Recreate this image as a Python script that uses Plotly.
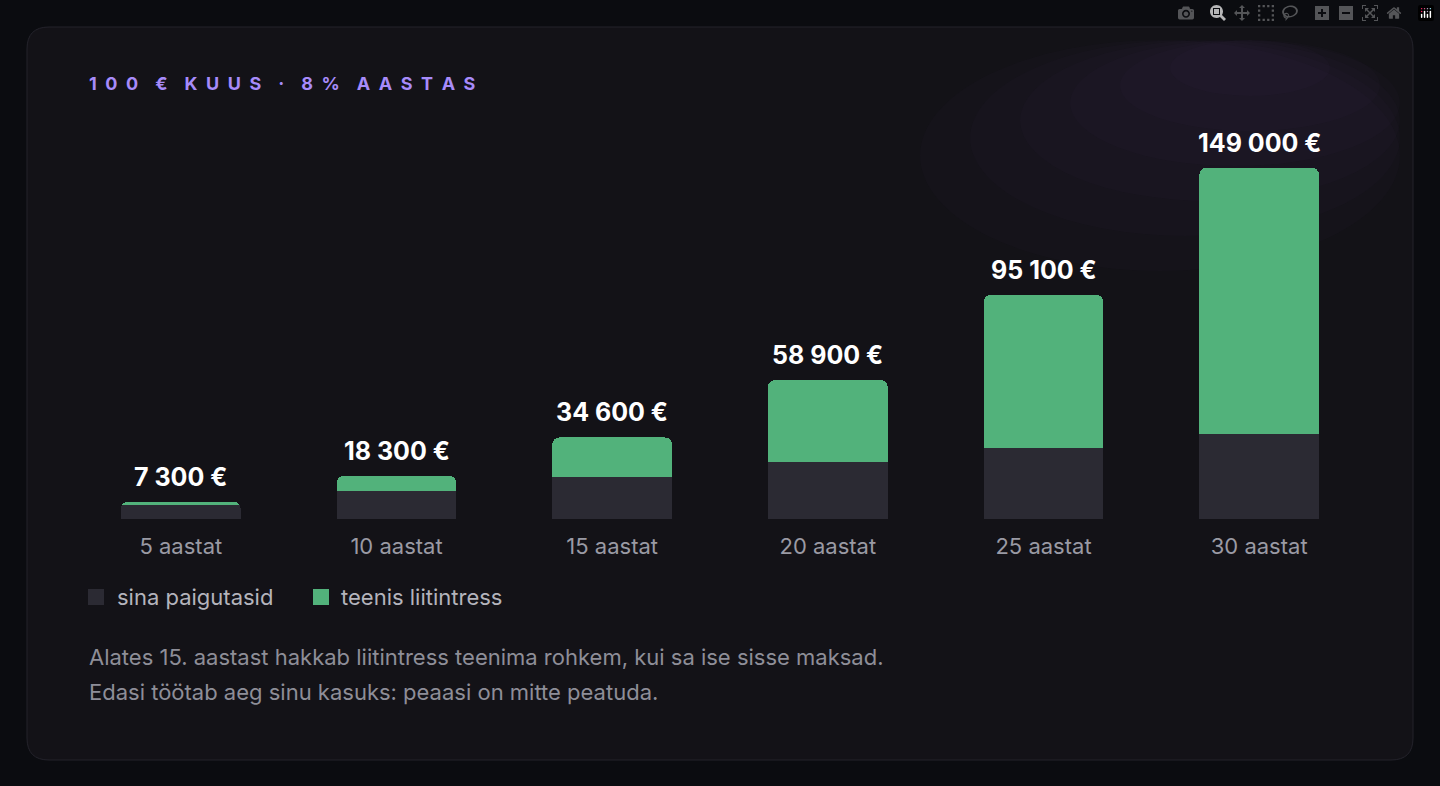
import plotly.graph_objects as go

# data
years = ["5 aastat", "10 aastat", "15 aastat", "20 aastat", "25 aastat", "30 aastat"]
paid = [6000, 12000, 18000, 24000, 30000, 36000]
totals = [7300, 18300, 34600, 58900, 95100, 149000]
total_labels = ["7 300 €", "18 300 €", "34 600 €", "58 900 €", "95 100 €", "149 000 €"]
interest = [t - p for t, p in zip(totals, paid)]

W, H = 1440, 786
L, R, T, B = 73, 73, 130, 267
PW, PH = W - L - R, H - T - B


def px(x):
    return (x - L) / PW


def py(y):
    return (H - B - y) / PH


fig = go.Figure()
fig.add_trace(go.Bar(x=years, y=paid, marker=dict(color="#2b2a33", line_width=0),
                     name="sina paigutasid", hoverinfo="skip"))
fig.add_trace(go.Bar(x=years, y=interest, marker=dict(color="#52b27b", line_width=0),
                     name="teenis liitintress", hoverinfo="skip"))

annotations = []
for yr, tot, lab in zip(years, totals, total_labels):
    annotations.append(dict(x=yr, y=tot, text=f"<b>{lab}</b>", showarrow=False,
                            yanchor="bottom", yshift=8,
                            font=dict(size=25, color="#ffffff", family="Inter")))

# title
annotations.append(dict(xref="paper", yref="paper", x=px(87), y=py(83), xanchor="left",
                        yanchor="middle", showarrow=False,
                        text="<b>1 &nbsp;0 &nbsp;0 &nbsp;&nbsp; € &nbsp;&nbsp; K &nbsp;U &nbsp;U &nbsp;S &nbsp;&nbsp; · &nbsp;&nbsp; 8 &nbsp;% &nbsp;&nbsp; A &nbsp;A &nbsp;S &nbsp;T &nbsp;A &nbsp;S</b>",
                        font=dict(size=18, color="#a78bfa", family="Inter")))
# legend
annotations.append(dict(xref="paper", yref="paper", x=px(115), y=py(597), xanchor="left",
                        yanchor="middle", showarrow=False, text="sina paigutasid",
                        font=dict(size=22, color="#b4b4bc", family="Inter")))
annotations.append(dict(xref="paper", yref="paper", x=px(339), y=py(597), xanchor="left",
                        yanchor="middle", showarrow=False, text="teenis liitintress",
                        font=dict(size=22, color="#b4b4bc", family="Inter")))
# footer
for ytxt, txt in [(657, "Alates 15. aastast hakkab liitintress teenima rohkem, kui sa ise sisse maksad."),
                  (692, "Edasi töötab aeg sinu kasuks: peaasi on mitte peatuda.")]:
    annotations.append(dict(xref="paper", yref="paper", x=px(87), y=py(ytxt), xanchor="left",
                            yanchor="middle", showarrow=False, text=txt,
                            font=dict(size=22, color="#8e8e98", family="Inter")))


def rrect(x0, y0, x1, y1, r):
    X0, X1 = px(x0), px(x1)
    Y0, Y1 = py(y0), py(y1)
    rx, ry = r / PW, r / PH
    return (f"M{X0+rx},{Y0} L{X1-rx},{Y0} Q{X1},{Y0} {X1},{Y0-ry} L{X1},{Y1+ry} "
            f"Q{X1},{Y1} {X1-rx},{Y1} L{X0+rx},{Y1} Q{X0},{Y1} {X0},{Y1+ry} "
            f"L{X0},{Y0-ry} Q{X0},{Y0} {X0+rx},{Y0} Z")


shapes = [
    dict(type="path", xref="paper", yref="paper", path=rrect(27, 27, 1413, 760, 22),
         fillcolor="#131217", line=dict(color="#24232b", width=1), layer="below"),
]
# soft purple glow in the top-right corner
for rad in [330, 280, 230, 180, 130, 80]:
    cx, cy = 1250, 40
    shapes.append(dict(type="circle", xref="paper", yref="paper", layer="below",
                       x0=px(max(cx - rad, 40)), x1=px(min(cx + rad, 1400)),
                       y0=py(max(cy - rad * 0.3, 40)), y1=py(cy + rad * 0.7),
                       fillcolor="rgba(120,70,190,0.025)", line_width=0))
shapes.append(dict(type="rect", xref="paper", yref="paper", x0=px(88), x1=px(104),
                   y0=py(605), y1=py(589), fillcolor="#2b2a33", line_width=0))
shapes.append(dict(type="rect", xref="paper", yref="paper", x0=px(313), x1=px(329),
                   y0=py(605), y1=py(589), fillcolor="#52b27b", line_width=0))

fig.update_layout(
    width=W, height=H, barmode="stack", bargap=0.445, barcornerradius=7,
    paper_bgcolor="#0b0c10", plot_bgcolor="rgba(0,0,0,0)",
    margin=dict(l=L, r=R, t=T, b=B), showlegend=False,
    annotations=annotations, shapes=shapes,
    font=dict(family="Inter"),
)
fig.update_xaxes(showgrid=False, zeroline=False, showline=False, ticks="",
                 tickfont=dict(size=22, color="#9a9aa4", family="Inter"), ticklabelstandoff=12)
fig.update_yaxes(visible=False, range=[0, 165000])

fig.write_html("out.html", post_script="document.body.style.margin='0';document.body.style.background='#0b0c10';")
